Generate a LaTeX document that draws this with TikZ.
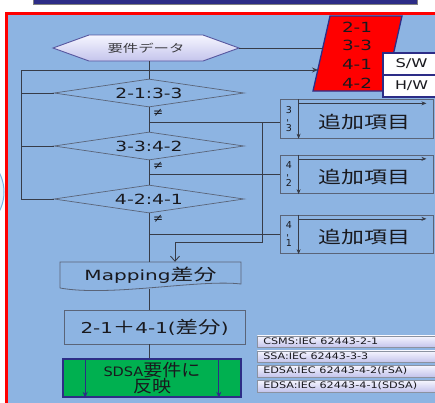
\documentclass[tikz,border=0pt]{standalone}
\usepackage{fontspec}
\setmainfont{DejaVu Sans}
\newfontfamily\jpf{Noto Sans CJK JP}
\usepackage{graphicx}
\usetikzlibrary{arrows.meta,shapes.geometric,positioning}

\definecolor{panel}{RGB}{141,180,226}
\definecolor{navy}{RGB}{45,45,135}
\definecolor{wire}{RGB}{55,60,72}
\definecolor{edge}{RGB}{90,100,120}
\definecolor{lav}{RGB}{196,196,236}
\definecolor{lavtop}{RGB}{246,246,255}
\definecolor{sdsagreen}{RGB}{0,176,80}
\definecolor{ink}{RGB}{25,25,30}

\newcommand\jp[1]{{\jpf #1}}
\newcommand\jpsz[2]{{\jpf\fontsize{#1}{#1}\selectfont #2}}
\newcommand\fitw[2]{\resizebox{#1}{\height}{#2}}

\begin{document}
\begin{tikzpicture}[x=1pt,y=-1pt,
    wire/.style={draw=wire,line width=0.9pt},
    flowarrow/.style={draw=wire,line width=0.6pt,-{Stealth[length=5pt,width=4pt]}},
    dia/.style={diamond,draw=edge,line width=0.7pt,minimum width=190pt,minimum height=28pt,
      aspect=6.8,inner sep=0pt,text=ink,font=\fontsize{14}{14}\selectfont},
    box/.style={draw=edge,line width=0.8pt,inner sep=0pt,text=ink},
    addbox/.style={box,minimum width=153pt,minimum height=38.5pt},
    kind/.style={draw=navy,line width=1.2pt,fill=white,minimum width=57pt,minimum height=22pt,
      inner sep=0pt,text=ink,font=\fontsize{12}{12}\selectfont},
    legend/.style={draw=edge!70,line width=0.5pt,top color=lavtop,bottom color=lav,
      minimum height=11.5pt,text width=171pt,inner xsep=6pt,inner ysep=0pt,align=left,
      anchor=west,text=ink,font=\fontsize{9}{9}\selectfont}]
  \useasboundingbox (0,0) rectangle (435,402);
  \clip (0,0) rectangle (435,402);
  \fill[white] (0,0) rectangle (435,402);
  \draw[draw={rgb,255:red,120;green,180;blue,230},fill={rgb,255:red,225;green,242;blue,252},line width=1pt]
    (-30,192) ellipse [x radius=34, y radius=38];
  \draw[fill=navy,draw=gray] (33,-5) rectangle (417,4);
  \draw[red,line width=3pt,fill=panel] (6.5,13.5) rectangle (450,420);

  % data sheet
  \draw[navy,line width=1.3pt,fill=red] (330,16) -- (402,16) -- (385,91) -- (313,91) -- cycle;
  \foreach \t [count=\i] in {2-1,3-3,4-1,4-2}
    \node[text=ink,font=\fontsize{14}{14}\selectfont] (p\i) at (357,8.3+18.7*\i) {\fitw{30pt}{\t}};
  \node[kind] (sw) at (411.5,64) {\fitw{32pt}{S/W}};
  \node[kind] (hw) at (411.5,86) {\fitw{33pt}{H/W}};
  \coordinate (pin1) at (323,48);
  \coordinate (pin2) at (318,70);
  \coordinate (lp) at (21,70);

  % requirement data
  \path[draw=navy!80,line width=0.9pt,top color=lavtop,bottom color=lav]
    (53,48) -- (89,35) -- (203,35) -- (239,48) -- (203,61) -- (89,61) -- cycle;
  \node[minimum width=186pt,minimum height=26pt,inner sep=0pt,text=ink!85,
    font=\fontsize{11}{11}\selectfont] (hex) at (146,48) {\fitw{77pt}{\jp{要件データ}}};

  % checks
  \node[dia] (d1) at (149,93) {\fitw{67pt}{2-1:3-3}};
  \node[dia] (d2) at (149,146) {\fitw{67pt}{3-3:4-2}};
  \node[dia] (d3) at (149,199) {\fitw{68pt}{4-2:4-1}};
  \foreach \d in {d1,d2,d3}
    \node[text=ink,font=\fontsize{12}{12}\selectfont,inner sep=0pt,below right=2pt and 4pt of \d.south] (ne-\d) {≠};

  % added items
  \foreach \y/\a/\b [count=\i] in {119/3/3,174.5/4/2,234.5/4/1} {
    \node[addbox] (add\i) at (356.5,\y) {};
    \node[text=ink,font=\fontsize{17}{17}\selectfont] (lbl\i) at (364,\y+3) {\fitw{92pt}{\jp{追加項目}}};
    \node[text=ink,align=center,inner sep=0pt,font=\fontsize{9.5}{9}\selectfont] (tag\i) at (289,\y)
      {\a\\\rotatebox{90}{-}\\\b};
    \draw[flowarrow] ([shift={(19,4)}]add\i.north west) -- ([shift={(-7,4)}]add\i.north east);
    \draw[flowarrow] ([xshift=19pt]add\i.north west) -- ([xshift=19pt]add\i.south west);
  }

  % mapping and result
  \draw[box] (60,288) -- (60,262) -- (241,262) -- (241,284) .. controls (200,279) and (110,297) .. (60,288);
  \node[minimum width=181pt,minimum height=27pt,inner sep=0pt,text=ink,
    font=\fontsize{14}{14}\selectfont] (map) at (150.5,275.5) {\fitw{132pt}{Mapping\jpsz{16}{差分}}};
  \node[box,minimum width=181pt,minimum height=34pt,font=\fontsize{15}{15}\selectfont] (sumbox) at (154.5,327)
    {\fitw{148pt}{2-1\jpsz{17}{＋}4-1(\jpsz{17}{差分})}};
  \node[draw=navy,line width=1.6pt,fill=sdsagreen,minimum width=178pt,minimum height=38pt,inner sep=0pt,
    align=center,text=ink,font=\fontsize{13}{16}\selectfont] (sdsa) at (152,378)
    {\fitw{97pt}{SDSA\jpsz{17}{要件に}}\\\fitw{38pt}{\jpsz{17}{反映}}};
  \draw[navy,line width=1.3pt,-{Stealth[length=6pt,width=5pt]}] ([xshift=23pt]sdsa.north west) -- ([xshift=23pt]sdsa.south west);
  \draw[navy,line width=1.3pt,-{Stealth[length=6pt,width=5pt]}] ([xshift=-23pt]sdsa.north east) -- ([xshift=-23pt]sdsa.south east);

  % standards
  \foreach \y/\w/\t [count=\i] in {341.5/115/{CSMS:IEC 62443-2-1},356.5/105/{SSA:IEC 62443-3-3},
      371/144/{EDSA:IEC 62443-4-2(FSA)},386/154/{EDSA:IEC 62443-4-1(SDSA)}}
    \node[legend] (lg\i) at (257,\y) {\fitw{\w pt}{\t}};

  % connectors
  \draw[wire] (d1.north |- hex.south) -- (d1.north);
  \draw[wire] (d1.south) -- (d2.north);
  \draw[wire] (d2.south) -- (d3.north);
  \draw[wire] (d3.south) -- (d3.south |- map.north);
  \draw[wire] (d3.south |- map.south) -- (d3.south |- sumbox.north);
  \draw[wire] (d3.south |- sumbox.south) -- (d3.south |- sdsa.north);
  \draw[wire] (hex.east) -- (pin1);
  \draw[wire,-{Stealth[length=6pt,width=5pt]}] (d3.west) -| (lp) -- (pin2);
  \draw[wire] (d1.west) -- (d1.west -| lp);
  \draw[wire] (d2.west) -- (d2.west -| lp);
  \coordinate (br1) at (149,122);
  \coordinate (rc) at (262,242);
  \draw[wire] (br1) -- (br1 -| add1.west);
  \draw[wire] (d2.south |- add2.west) -- (add2.west);
  \draw[wire] (d3.south |- add3.west) -- (add3.west);
  \draw[wire,-{Straight Barb[length=5pt,width=9pt]}] (br1 -| rc) -- (rc) -| ([xshift=24.5pt]map.north);
\end{tikzpicture}
\end{document}
